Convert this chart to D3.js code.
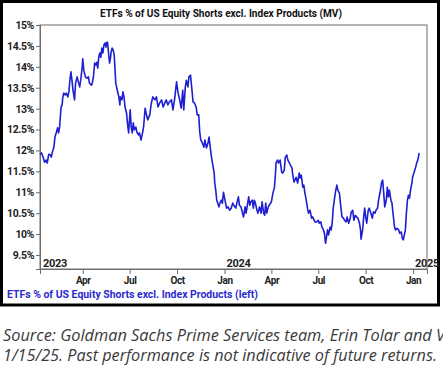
<!DOCTYPE html>
<html><head><meta charset="utf-8">
<script src="https://cdn.jsdelivr.net/npm/d3@7"></script>
<style>
html,body{margin:0;padding:0;background:#fff;overflow:hidden;}
svg{display:block;}
</style></head>
<body>
<script>
const title = "ETFs % of US Equity Shorts excl. Index Products (MV)";
const legendLabel = "ETFs % of US Equity Shorts excl. Index Products (left)";
const sourceLines = ["Source: Goldman Sachs Prime Services team, Erin Tolar and V",
                     "1/15/25. Past performance is not indicative of future returns."];
const yTicks = [9.5,10,10.5,11,11.5,12,12.5,13,13.5,14,14.5,15];
const monthTickDates = ["2023-04-01","2023-07-01","2023-10-01","2024-01-01","2024-04-01","2024-07-01","2024-10-01","2025-01-01"];
const monthTickLabels = ["Apr","Jul","Oct","Jan","Apr","Jul","Oct","Jan"];
const yearDates = ["2023-01-01","2024-01-01","2025-01-01"];
const yearLabels = ["2023","2024","2025"];
const xDomain = ["2023-01-08","2025-01-28"];
const yDomain = [9.165, 15];

const dates = [
"2023-01-08","2023-01-11","2023-01-14","2023-01-17","2023-01-20","2023-01-22","2023-01-25","2023-01-28","2023-01-30","2023-02-01",
"2023-02-04","2023-02-06","2023-02-09","2023-02-11","2023-02-13","2023-02-15","2023-02-17","2023-02-18","2023-02-20","2023-02-21",
"2023-02-23","2023-02-26","2023-02-28","2023-03-03","2023-03-05","2023-03-07","2023-03-09","2023-03-11","2023-03-13","2023-03-16",
"2023-03-18","2023-03-21","2023-03-24","2023-03-26","2023-03-28","2023-03-31","2023-04-01","2023-04-03","2023-04-06","2023-04-09",
"2023-04-12","2023-04-14","2023-04-18","2023-04-20","2023-04-22","2023-04-24","2023-04-26","2023-04-28","2023-04-30","2023-05-02",
"2023-05-04","2023-05-06","2023-05-08","2023-05-10","2023-05-12","2023-05-14","2023-05-16","2023-05-17","2023-05-19","2023-05-21",
"2023-05-23","2023-05-25","2023-05-26","2023-05-28","2023-05-30","2023-06-01","2023-06-03","2023-06-04","2023-06-07","2023-06-10",
"2023-06-12","2023-06-13","2023-06-16","2023-06-18","2023-06-20","2023-06-22","2023-06-25","2023-06-27","2023-06-29","2023-07-02",
"2023-07-04","2023-07-06","2023-07-08","2023-07-10","2023-07-13","2023-07-15","2023-07-18","2023-07-20","2023-07-23","2023-07-26",
"2023-07-28","2023-07-31","2023-08-02","2023-08-05","2023-08-09","2023-08-12","2023-08-15","2023-08-19","2023-08-22","2023-08-25",
"2023-08-28","2023-09-01","2023-09-04","2023-09-07","2023-09-10","2023-09-13","2023-09-16","2023-09-20","2023-09-23","2023-09-26",
"2023-09-30","2023-10-03","2023-10-06","2023-10-09","2023-10-12","2023-10-14","2023-10-17","2023-10-19","2023-10-22","2023-10-24",
"2023-10-27","2023-10-29","2023-11-01","2023-11-04","2023-11-07","2023-11-09","2023-11-12","2023-11-14","2023-11-16","2023-11-19",
"2023-11-22","2023-11-24","2023-11-27","2023-11-30","2023-12-02","2023-12-05","2023-12-07","2023-12-10","2023-12-12","2023-12-13",
"2023-12-15","2023-12-17","2023-12-19","2023-12-21","2023-12-24","2023-12-26","2023-12-28","2023-12-30","2024-01-02","2024-01-05",
"2024-01-08","2024-01-11","2024-01-14","2024-01-17","2024-01-19","2024-01-23","2024-01-25","2024-01-28","2024-01-30","2024-02-02",
"2024-02-05","2024-02-07","2024-02-10","2024-02-12","2024-02-15","2024-02-17","2024-02-19","2024-02-21","2024-02-24","2024-02-26",
"2024-02-28","2024-03-01","2024-03-04","2024-03-06","2024-03-09","2024-03-12","2024-03-14","2024-03-17","2024-03-19","2024-03-21",
"2024-03-23","2024-03-26","2024-03-28","2024-04-01","2024-04-04","2024-04-07","2024-04-09","2024-04-10","2024-04-13","2024-04-15",
"2024-04-18","2024-04-21","2024-04-23","2024-04-26","2024-04-28","2024-05-01","2024-05-03","2024-05-06","2024-05-08","2024-05-11",
"2024-05-12","2024-05-15","2024-05-19","2024-05-22","2024-05-25","2024-05-27","2024-05-29","2024-06-01","2024-06-03","2024-06-05",
"2024-06-07","2024-06-10","2024-06-12","2024-06-15","2024-06-18","2024-06-20","2024-06-23","2024-06-25","2024-06-28","2024-07-01",
"2024-07-03","2024-07-06","2024-07-08","2024-07-11","2024-07-13","2024-07-15","2024-07-17","2024-07-19","2024-07-21","2024-07-24",
"2024-07-26","2024-07-28","2024-07-30","2024-08-02","2024-08-04","2024-08-06","2024-08-08","2024-08-11","2024-08-13","2024-08-16",
"2024-08-19","2024-08-21","2024-08-24","2024-08-26","2024-08-29","2024-09-01","2024-09-03","2024-09-06","2024-09-08","2024-09-11",
"2024-09-13","2024-09-16","2024-09-19","2024-09-21","2024-09-22","2024-09-25","2024-09-27","2024-09-29","2024-10-01","2024-10-03",
"2024-10-06","2024-10-08","2024-10-11","2024-10-14","2024-10-16","2024-10-19","2024-10-21","2024-10-24","2024-10-26","2024-10-29",
"2024-11-01","2024-11-03","2024-11-05","2024-11-07","2024-11-10","2024-11-12","2024-11-14","2024-11-16","2024-11-19","2024-11-21",
"2024-11-23","2024-11-26","2024-11-28","2024-12-01","2024-12-04","2024-12-06","2024-12-09","2024-12-11","2024-12-13","2024-12-15",
"2024-12-17","2024-12-19","2024-12-21","2024-12-23","2024-12-25","2024-12-27","2024-12-30","2024-12-31","2025-01-03","2025-01-06",
"2025-01-08","2025-01-10","2025-01-13"
];
const values = [
11.91,11.94,11.84,11.72,11.77,11.70,11.91,11.89,11.84,11.96,
12.08,12.32,12.44,12.54,12.42,12.56,12.89,13.04,13.09,13.25,
13.37,13.33,13.37,13.28,13.40,13.68,13.88,13.68,13.44,13.21,
13.61,13.76,13.61,13.52,13.68,14.00,14.19,13.92,13.76,13.73,
13.76,13.61,13.56,13.64,13.80,14.09,14.04,14.11,13.97,14.23,
14.33,14.23,14.45,14.33,14.52,14.57,14.47,14.57,14.59,14.33,
14.09,14.23,14.35,14.45,14.40,14.28,13.85,13.61,13.44,13.28,
13.09,13.28,13.21,13.40,13.28,13.04,12.89,12.61,12.42,12.97,
12.56,12.42,12.66,12.49,12.56,12.44,12.37,12.42,12.25,12.42,
12.56,13.01,12.89,12.73,12.85,13.13,13.28,13.21,13.28,13.04,
13.13,13.21,13.04,13.13,13.21,13.09,13.16,13.21,12.97,13.21,
13.64,13.37,13.21,13.01,13.44,12.97,13.52,13.68,13.52,13.76,
13.80,13.56,13.16,13.13,13.04,12.85,12.85,12.44,12.25,12.18,
12.08,12.25,12.06,12.18,12.32,12.01,11.82,11.60,11.46,11.24,
11.05,10.81,10.74,10.65,10.77,10.81,10.74,11.00,10.81,10.62,
10.65,10.57,10.62,10.74,10.69,10.62,10.74,10.89,10.69,10.65,
10.50,10.41,10.65,10.50,10.74,10.89,10.69,10.77,10.81,10.62,
10.81,10.74,10.57,10.50,10.65,10.50,10.77,10.50,10.45,10.74,
10.50,10.65,10.69,10.77,10.98,11.12,11.46,11.70,11.77,11.70,
11.77,11.48,11.46,11.53,11.84,11.89,11.77,11.70,11.65,11.58,
11.46,11.24,11.36,11.22,11.46,11.34,11.41,11.12,11.17,10.98,
10.86,10.62,10.50,10.57,10.38,10.41,10.33,10.29,10.29,10.33,
10.26,10.29,10.17,10.10,10.02,9.78,9.93,10.10,9.98,10.17,
10.10,10.26,10.62,10.89,11.05,11.17,11.05,10.98,10.74,10.41,
10.38,10.33,10.29,10.41,10.26,10.38,10.53,10.57,10.33,10.45,
10.41,10.38,10.26,10.10,9.88,10.10,10.38,10.62,10.41,10.26,
10.57,10.62,10.50,10.38,10.53,10.50,10.57,10.62,10.81,11.00,
11.24,11.29,10.98,10.65,10.81,11.12,10.89,11.05,10.81,10.74,
10.50,10.17,10.10,10.14,10.10,10.02,10.05,9.90,9.86,9.98,
10.10,10.50,10.81,10.93,10.86,11.05,11.24,11.36,11.48,11.60,
11.70,11.77,11.94
];

const W = 443, H = 367;
const M = {left: 40, right: 427, top: 25, bottom: 269};
const parse = d3.utcParse("%Y-%m-%d");
const data = dates.map((d, i) => ({date: parse(d), value: values[i]}));

const svg = d3.select("body").append("svg").attr("width", W).attr("height", H);

// outer frame
svg.append("rect").attr("x", 1.5).attr("y", 1.5).attr("width", 437).attr("height", 303.5)
  .attr("fill", "#fff").attr("stroke", "#000").attr("stroke-width", 3);

const x = d3.scaleUtc().domain(xDomain.map(parse)).range([M.left, M.right]);
const y = d3.scaleLinear().domain(yDomain).range([M.bottom, M.top]);

const font = "Roboto, 'Liberation Sans', sans-serif";

// title
svg.append("text").attr("x", 221).attr("y", 17).attr("text-anchor", "middle")
  .attr("font-family", font).attr("font-weight", 700).attr("font-size", 10.5)
  .attr("fill", "#111").attr("textLength", 242).attr("lengthAdjust", "spacingAndGlyphs")
  .text(title);

// plot border
svg.append("rect").attr("x", M.left).attr("y", M.top)
  .attr("width", M.right - M.left).attr("height", M.bottom - M.top)
  .attr("fill", "none").attr("stroke", "#6d6d6d").attr("stroke-width", 1);

// y axis
const yAxis = d3.axisLeft(y).tickValues(yTicks).tickSize(4).tickPadding(2)
  .tickFormat(d => d + "%");
const gy = svg.append("g").attr("transform", `translate(${M.left},0)`).call(yAxis);
gy.select(".domain").attr("stroke", "#6d6d6d");
gy.selectAll(".tick line").attr("stroke", "#6d6d6d");
gy.selectAll(".tick text").attr("font-family", font).attr("font-weight", 700)
  .attr("font-size", 10.5).attr("fill", "#222").attr("letter-spacing", -0.4);

// x axis (month ticks)
const xAxis = d3.axisBottom(x).tickValues(monthTickDates.map(parse)).tickSize(5).tickPadding(3)
  .tickFormat((d, i) => monthTickLabels[i]);
const gx = svg.append("g").attr("transform", `translate(0,${M.bottom})`).call(xAxis);
gx.select(".domain").attr("stroke", "#6d6d6d");
gx.selectAll(".tick line").attr("stroke", "#6d6d6d");
gx.selectAll(".tick text").attr("font-family", font).attr("font-weight", 700)
  .attr("font-size", 10).attr("fill", "#222").attr("letter-spacing", -0.4);

// year labels
svg.append("g").selectAll("text").data(yearLabels).join("text")
  .attr("x", (d, i) => Math.max(x(parse(yearDates[i])) + 2, M.left + 3))
  .attr("y", M.bottom - 2)
  .attr("font-family", font).attr("font-weight", 700).attr("font-size", 11)
  .attr("fill", "#222").attr("letter-spacing", -0.3)
  .text(d => d);

// line
const line = d3.line().x(d => x(d.date)).y(d => y(d.value));
svg.append("path").datum(data).attr("d", line)
  .attr("fill", "none").attr("stroke", "#1e1ed2").attr("stroke-width", 1.6)
  .attr("stroke-linejoin", "round");

// legend
svg.append("text").attr("x", 7).attr("y", 298)
  .attr("font-family", font).attr("font-weight", 700).attr("font-size", 10.5)
  .attr("fill", "#2a2ad0").attr("textLength", 251).attr("lengthAdjust", "spacingAndGlyphs")
  .text(legendLabel);

// source
svg.append("text").attr("x", 3).attr("y", 341)
  .attr("font-family", "'Open Sans', 'Noto Sans', sans-serif").attr("font-style", "italic")
  .attr("font-size", 15.5).attr("fill", "#3a3a3a").attr("textLength", 442).attr("lengthAdjust", "spacingAndGlyphs")
  .text(sourceLines[0]);
svg.append("text").attr("x", 3).attr("y", 361)
  .attr("font-family", "'Open Sans', 'Noto Sans', sans-serif").attr("font-style", "italic")
  .attr("font-size", 15.5).attr("fill", "#3a3a3a").attr("textLength", 434).attr("lengthAdjust", "spacingAndGlyphs")
  .text(sourceLines[1]);
</script>
</body></html>
